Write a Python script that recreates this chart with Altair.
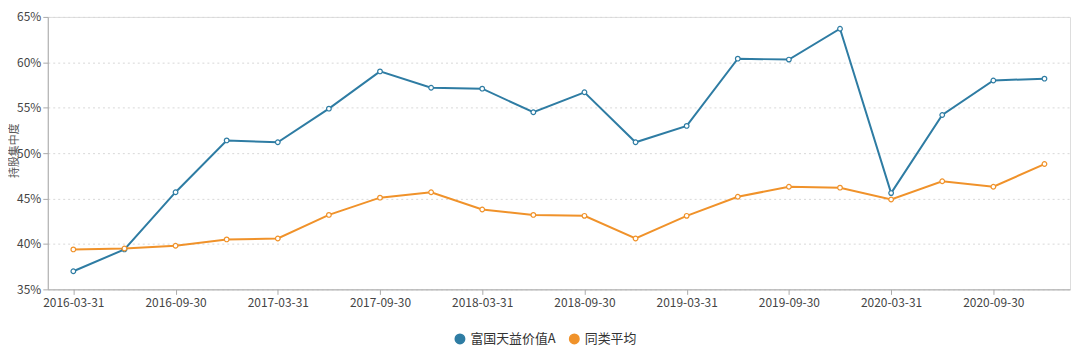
import altair as alt
import pandas as pd

dates = [
    "2016-03-31", "2016-06-30", "2016-09-30", "2016-12-31",
    "2017-03-31", "2017-06-30", "2017-09-30", "2017-12-31",
    "2018-03-31", "2018-06-30", "2018-09-30", "2018-12-31",
    "2019-03-31", "2019-06-30", "2019-09-30", "2019-12-31",
    "2020-03-31", "2020-06-30", "2020-09-30", "2020-12-31",
]
fund_values = [37.0, 39.4, 45.7, 51.4, 51.2, 54.9, 59.0, 57.2, 57.1, 54.5,
               56.7, 51.2, 53.0, 60.4, 60.3, 63.7, 45.6, 54.2, 58.0, 58.2]
avg_values = [39.4, 39.5, 39.8, 40.5, 40.6, 43.2, 45.1, 45.7, 43.8, 43.2,
              43.1, 40.6, 43.1, 45.2, 46.3, 46.2, 44.9, 46.9, 46.3, 48.8]
series_names = ["富国天益价值A", "同类平均"]
series_colors = ["#2e7ca3", "#f0922a"]
tick_labels = dates[::2]
y_ticks = [35, 40, 45, 50, 55, 60, 65]

rows = []
for name, vals in zip(series_names, [fund_values, avg_values]):
    for d, v in zip(dates, vals):
        rows.append({"date": d, "value": v / 100.0, "series": name})
df = pd.DataFrame(rows)

font = "Noto Sans CJK SC"

x_enc = alt.X(
    "date:O",
    sort=dates,
    scale=alt.Scale(type="point", padding=0.5),
    axis=alt.Axis(
        values=tick_labels, labelAngle=0, title=None, grid=False,
        labelColor="#444", labelFontSize=12, labelFont=font,
        domainColor="#aaa", tickColor="#aaa", tickSize=5, labelPadding=3,
    ),
)
y_enc = alt.Y(
    "value:Q",
    scale=alt.Scale(domain=[0.35, 0.65], nice=False, zero=False),
    axis=alt.Axis(
        values=[t / 100 for t in y_ticks], format=".0%",
        title="持股集中度", titleFont=font, titleFontSize=11,
        titleFontWeight="normal", titleColor="#555",
        titleX=-33, titleY=134, titleBaseline="middle", titleAlign="center",
        labelColor="#444", labelFontSize=12, labelFont=font,
        domainColor="#aaa", tickColor="#aaa", tickSize=5,
        gridColor="#d8d8d8", gridDash=[2, 3], labelPadding=2,
    ),
)
color_scale = alt.Scale(domain=series_names, range=series_colors)
color_enc = alt.Color(
    "series:N", scale=color_scale,
    legend=alt.Legend(
        title=None, orient="none", direction="horizontal",
        legendX=408, legendY=317, symbolType="circle", symbolSize=90,
        symbolOpacity=1, labelFont=font, labelFontSize=13,
        labelColor="#333", columnPadding=10,
    ),
)

legend_layer = alt.Chart(df).mark_circle(opacity=0).encode(
    x=x_enc, y=y_enc, color=color_enc,
)
lines = alt.Chart(df).mark_line(strokeWidth=2).encode(
    x=x_enc, y=y_enc, color=color_enc,
)
points = alt.Chart(df).mark_point(
    filled=True, fill="white", size=22, strokeWidth=1.2, opacity=1
).encode(
    x=x_enc, y=y_enc,
    stroke=alt.Stroke("series:N", scale=color_scale, legend=None),
)

chart = (
    alt.layer(legend_layer, lines, points)
    .properties(
        width=1028, height=274,
        autosize=alt.AutoSizeParams(type="none"),
        padding={"left": 40, "top": 8, "right": 2, "bottom": 60},
    )
    .configure_view(stroke=None)
    .configure(font=font)
)

chart.save("out.html", embed_options={"renderer": "svg", "actions": False})
